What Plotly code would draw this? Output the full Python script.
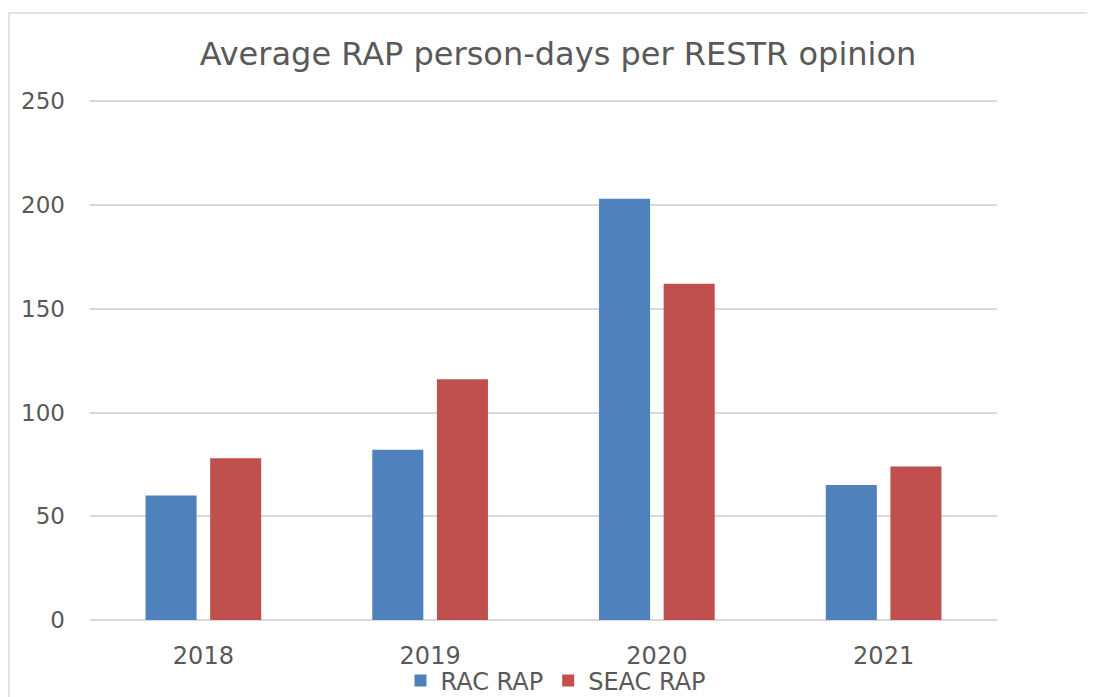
import plotly.graph_objects as go

years = ["2018", "2019", "2020", "2021"]
rac_rap = [60, 82, 203, 65]
seac_rap = [78, 116, 162, 74]
y_ticks = [0, 50, 100, 150, 200, 250]

W, H = 1095, 697
OFF = 8  # page body margin offset in the screenshot
L, R, T, B = 90 - OFF, 1095 - (997 - OFF), 100 - OFF, 697 - (620 - OFF)
pw, ph = W - L - R, H - T - B


def px_x(px):
    """target screenshot x -> paper x"""
    return (px - OFF - L) / pw


def px_y(py):
    """target screenshot y -> paper y"""
    return (H - B - (py - OFF)) / ph


FONT = "DejaVu Sans, Verdana, sans-serif"
TXT = "#595959"

fig = go.Figure()
fig.add_trace(go.Bar(name="RAC RAP", x=years, y=rac_rap, marker_color="#4F81BD",
                     marker_line_width=0))
fig.add_trace(go.Bar(name="SEAC RAP", x=years, y=seac_rap, marker_color="#C0504D",
                     marker_line_width=0))

fig.update_layout(
    width=W, height=H,
    margin=dict(l=L, r=R, t=T, b=B, autoexpand=False),
    paper_bgcolor="white", plot_bgcolor="white",
    barmode="group", bargap=0.43, bargroupgap=0.21,
    font=dict(family=FONT, size=24, color=TXT),
    title=dict(text="Average RAP person-days per RESTR opinion",
               font=dict(family=FONT, size=32, color=TXT),
               x=px_x(558), xref="paper", xanchor="center",
               y=1 - (54 - OFF) / H, yref="container", yanchor="middle"),
    legend=dict(orientation="h", x=px_x(556), xanchor="center",
                y=px_y(681), yanchor="middle",
                font=dict(family=FONT, size=24, color=TXT),
                itemwidth=30, bgcolor="rgba(0,0,0,0)"),
    xaxis=dict(showgrid=False, showline=False, zeroline=False,
               ticks="", ticklabelstandoff=19,
               tickfont=dict(family=FONT, size=24, color=TXT)),
    yaxis=dict(range=[0, 250.6], tickvals=y_ticks, showgrid=True,
               gridcolor="#D9D9D9", gridwidth=1.5, zeroline=True,
               zerolinecolor="#D9D9D9", zerolinewidth=1.5,
               showline=False, ticks="", ticklabelstandoff=24,
               tickfont=dict(family=FONT, size=23, color=TXT)),
    shapes=[dict(type="rect", xref="paper", yref="paper",
                 x0=px_x(9), x1=px_x(1120), y0=px_y(13), y1=px_y(730),
                 line=dict(color="#D9D9D9", width=1.5), layer="below")],
)

fig.write_html("out.html")
